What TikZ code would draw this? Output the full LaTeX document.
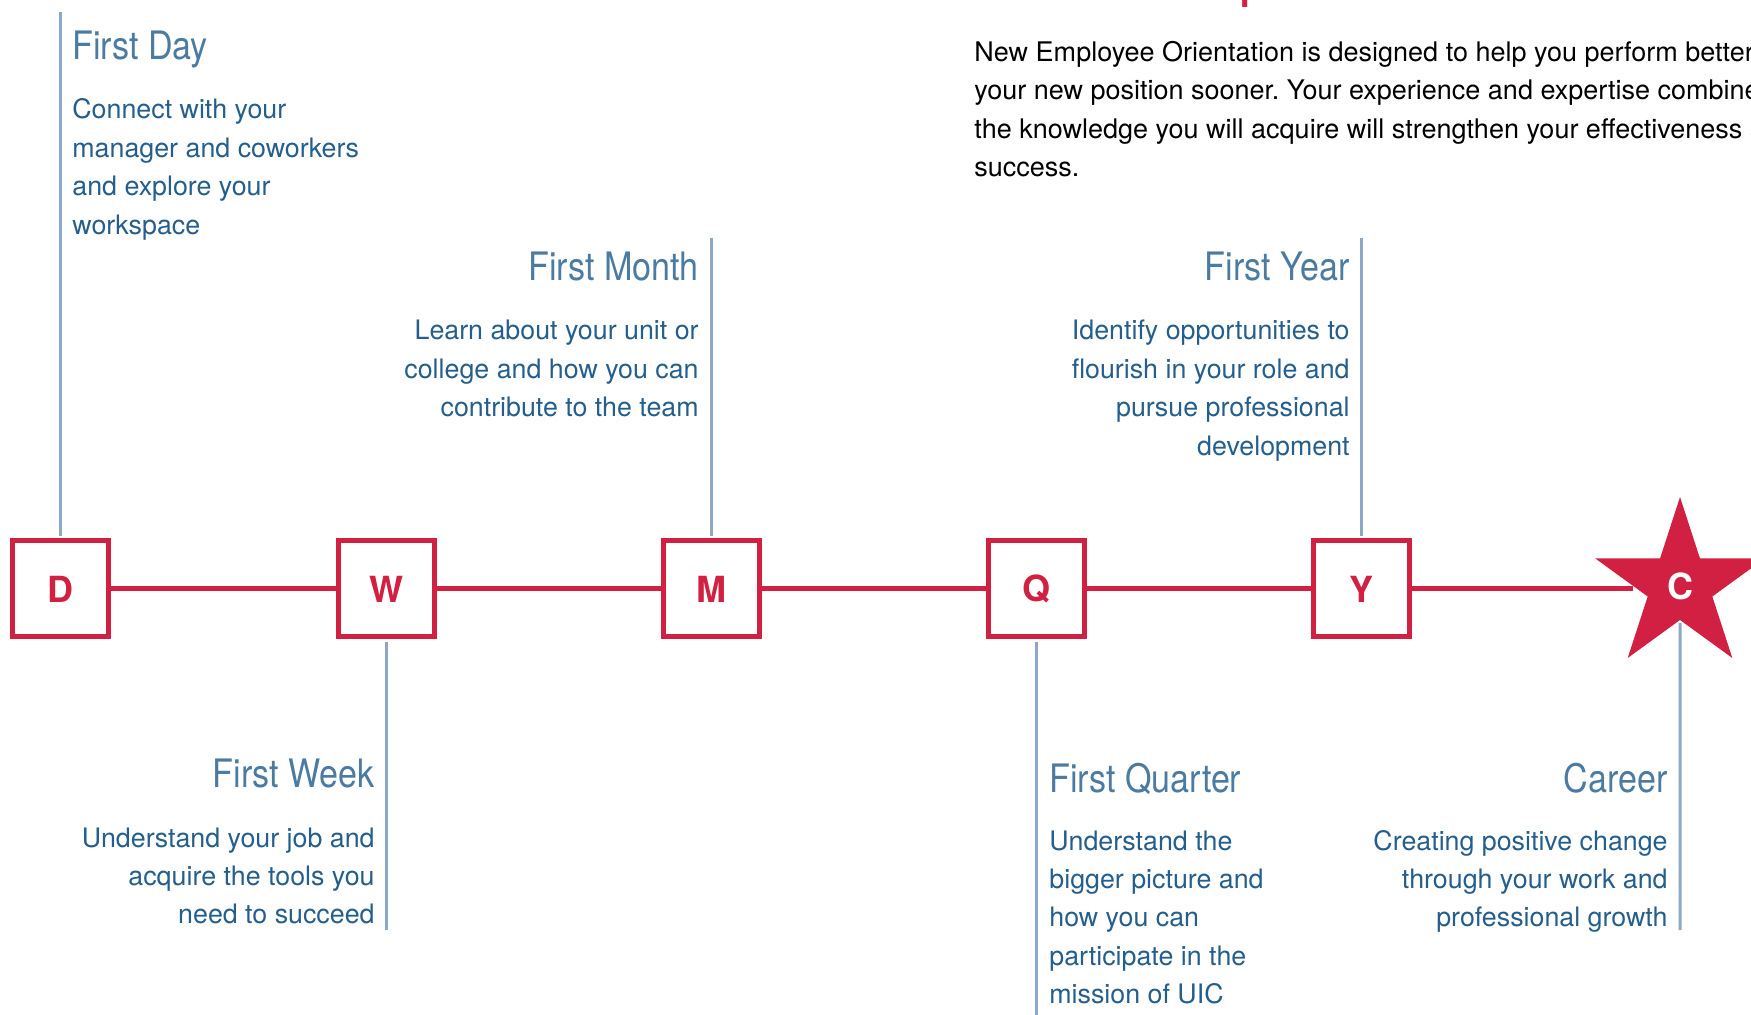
\documentclass[tikz,border=0pt]{standalone}
\usepackage{fontspec}
\setmainfont{TeX Gyre Heros}
\newfontfamily\titlefam[FakeStretch=0.87]{TeX Gyre Heros}
\usepackage{tikz}
\usetikzlibrary{shapes.geometric}
\frenchspacing

\definecolor{uicred}{RGB}{210,32,66}
\definecolor{uicblue}{RGB}{36,94,140}
\definecolor{tickgray}{RGB}{140,168,198}

\newcommand{\titlefont}{\titlefam\fontsize{19.6}{22}\selectfont}
\newcommand{\bodyfont}{\fontsize{13.4}{19.2}\selectfont}

\begin{document}
\begin{tikzpicture}[x=0.5pt,y=-0.5pt,
  stop/.style={draw=uicred,line width=2.5pt,minimum size=48pt,inner sep=0pt,
    font=\fontsize{18}{20}\selectfont\bfseries,text=uicred},
  link/.style={draw=uicred,line width=2.5pt},
  tick/.style={draw=tickgray,line width=1.5pt,shorten <=1.25pt},
  heading/.style={font=\titlefont,text=uicblue!82,inner sep=0pt},
  blurb/.style={font=\bodyfont,text=uicblue,inner sep=0pt}]
\useasboundingbox (0,0) rectangle (1751,1015);

% intro text, cut by the page edges
\node[anchor=base west,inner sep=0pt,text=uicred,font=\fontsize{18.25}{20}\selectfont\bfseries] (purpose) at (974,-0.5) {What is the Purpose of Orientation?};
\node[anchor=base west,inner sep=0pt,font=\fontsize{13.5}{19.15}\selectfont] (intro) at (974,61.5)
  {\begin{tabular}[t]{@{}l@{}}New Employee Orientation is designed to help you perform better\\
   your new position sooner. Your experience and expertise combined\\
   the knowledge you will acquire will strengthen your effectiveness and\\
   success.\end{tabular}};

% timeline
\node[stop] (D) at (60.5,589) {D};
\node[stop] (W) at (386,589) {W};
\node[stop] (M) at (711,589) {M};
\node[stop] (Q) at (1036,589) {Q};
\node[stop] (Y) at (1361,589) {Y};
\node[star,star points=5,star point ratio=2.618,minimum size=89pt,inner sep=0pt,
  fill=uicred,text=white,font=\fontsize{18}{20}\selectfont\bfseries] (C) at (1680,586) {C};
\draw[link] (D) -- (W);
\draw[link] (W) -- (M);
\draw[link] (M) -- (Q);
\draw[link] (Q) -- (Y);
\draw[link] (Y) -- (Y -| C.west);

% ticks
\coordinate (Dend) at (60.5,12);
\coordinate (Wend) at (386,930);
\coordinate (Mend) at (711,238);
\coordinate (Qend) at (1036,1016);
\coordinate (Yend) at (1361,238);
\coordinate (Cend) at (1680,930);
\draw[tick] (D.north) -- (Dend);
\draw[tick] (W.south) -- (Wend);
\draw[tick] (M.north) -- (Mend);
\draw[tick] (Q.south) -- (Qend);
\draw[tick] (Y.north) -- (Yend);
\draw[tick] (C.south) -- (Cend);

% labels
\node[heading,anchor=base west] (dayT) at (72,60) {First Day};
\node[blurb,anchor=base west] (dayB) at (72,119) {\begin{tabular}[t]{@{}l@{}}Connect with your\\manager and coworkers\\and explore your\\workspace\end{tabular}};

\node[heading,anchor=base east] (weekT) at (375,787) {First Week};
\node[blurb,anchor=base east] (weekB) at (375,847) {\begin{tabular}[t]{@{}r@{}}Understand your job and\\acquire the tools you\\need to succeed\end{tabular}};

\node[heading,anchor=base east] (monthT) at (699,281) {First Month};
\node[blurb,anchor=base east] (monthB) at (699,340) {\begin{tabular}[t]{@{}r@{}}Learn about your unit or\\college and how you can\\contribute to the team\end{tabular}};

\node[heading,anchor=base west] (quarterT) at (1049,792) {First Quarter};
\node[blurb,anchor=base west] (quarterB) at (1049,850) {\begin{tabular}[t]{@{}l@{}}Understand the\\bigger picture and\\how you can\\participate in the\\mission of UIC\end{tabular}};

\node[heading,anchor=base east] (yearT) at (1350,281) {First Year};
\node[blurb,anchor=base east] (yearB) at (1350,340) {\begin{tabular}[t]{@{}r@{}}Identify opportunities to\\flourish in your role and\\pursue professional\\development\end{tabular}};

\node[heading,anchor=base east] (careerT) at (1668,792) {Career};
\node[blurb,anchor=base east] (careerB) at (1668,850) {\begin{tabular}[t]{@{}r@{}}Creating positive change\\through your work and\\professional growth\end{tabular}};
\end{tikzpicture}
\end{document}
